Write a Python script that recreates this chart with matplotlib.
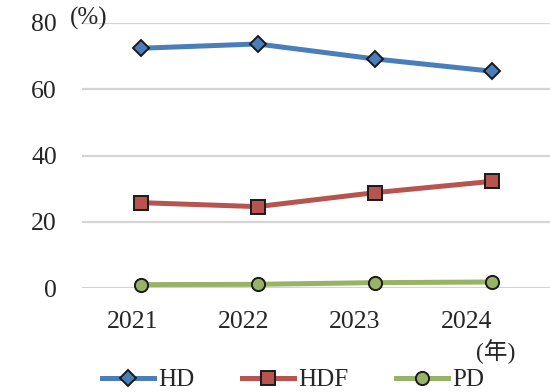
import numpy as np
import matplotlib
matplotlib.use("Agg")
import matplotlib.pyplot as plt

plt.rcParams['font.family'] = ['Liberation Serif', 'Noto Sans CJK JP', 'DejaVu Sans']

# データ
years = ['2021', '2022', '2023', '2024']
hd = [72.3, 73.6, 69.1, 65.4]
hdf = [25.8, 24.6, 28.8, 32.2]
pd_ = [1.1, 1.2, 1.7, 1.9]

fig = plt.figure(figsize=(5.5, 3.92), dpi=100)
ax = fig.add_axes([82 / 550, 1 - 288.3 / 392, 1 - 82 / 550, (288.3 - 22.7) / 392])

x = np.arange(len(years))
ax.plot(x, hd, color='#4a7ebb', lw=3.6, marker='D', ms=8.5, mfc='#4a7ebb',
        mec='#1a1a1a', mew=1.4, label='HD', clip_on=False, zorder=3)
ax.plot(x, hdf, color='#b85450', lw=3.6, marker='s', ms=9.5, mfc='#b85450',
        mec='#1a1a1a', mew=1.4, label='HDF', clip_on=False, zorder=3)
ax.plot(x, pd_, color='#98b365', lw=3.6, marker='o', ms=9.5, mfc='#98b365',
        mec='#1a1a1a', mew=1.4, label='PD', clip_on=False, zorder=3)

ax.set_xlim(-0.5, 3.5)
ax.set_ylim(0, 80)
ax.set_yticks([0, 20, 40, 60, 80])
ax.yaxis.grid(True, color='#d4d4d4', lw=1.6)
ax.set_axisbelow(True)
for s in ax.spines.values():
    s.set_visible(False)

# 年ラベルは少し左寄せ
ax.set_xticks(np.arange(4) * 0.952 - 0.07)
ax.set_xticklabels(years)
ax.tick_params(axis='x', length=0, pad=16, labelsize=18.5, labelcolor='#262626')
ax.tick_params(axis='y', length=0, pad=18, labelsize=18.5, labelcolor='#262626')

fig.text(70 / 550, 1 - 18 / 392, '(%)', fontsize=18, color='#262626',
         ha='left', va='center')
fig.text(515 / 550, 1 - 352 / 392, '(年)', fontsize=17, color='#262626',
         ha='right', va='center')

fig.legend(loc='center', bbox_to_anchor=(293 / 550, 1 - 380 / 392), ncol=3,
           frameon=False, fontsize=18, handlelength=2.1, handletextpad=0.15,
           columnspacing=1.9, borderpad=0, labelcolor='#262626')

fig.savefig('out.png', dpi=100)
